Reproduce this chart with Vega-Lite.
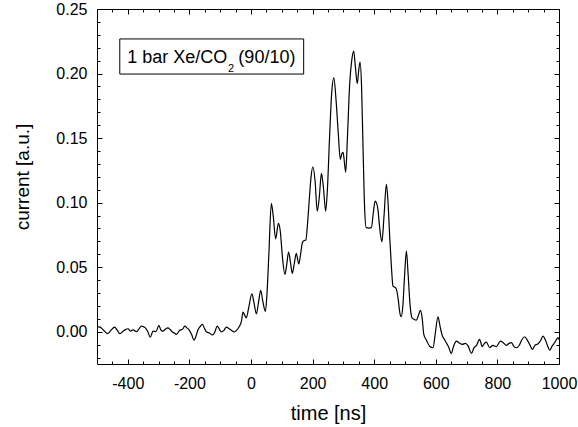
{
  "$schema": "https://vega.github.io/schema/vega-lite/v6.json",
  "autosize": {"type": "none"},
  "padding": {"left": 97, "top": 9, "right": 19, "bottom": 63},
  "width": 462,
  "height": 355,
  "background": "white",
  "config": {
    "view": {"stroke": null},
    "font": "Liberation Sans",
    "axis": {
      "grid": false,
      "domainColor": "black",
      "domainWidth": 1,
      "tickColor": "black",
      "tickWidth": 1,
      "labelColor": "black",
      "labelFont": "Liberation Sans",
      "labelFontSize": 16,
      "labelFlush": false,
      "labelOverlap": false,
      "titleColor": "black",
      "titleFont": "Liberation Sans",
      "titleFontWeight": "normal"
    }
  },
  "data": {
    "values": [
      {"t": -500, "v": 0.004}, {"t": -490, "v": 0.0036}, {"t": -478, "v": 0.001}, {"t": -466, "v": -0.0015},
      {"t": -455, "v": 0.001}, {"t": -443, "v": 0.0036}, {"t": -434, "v": 0.001}, {"t": -426, "v": -0.0015},
      {"t": -412, "v": 0.001}, {"t": -399, "v": 0.0023}, {"t": -392, "v": 0.0005}, {"t": -383, "v": 0.0015},
      {"t": -372, "v": 0.0}, {"t": -364, "v": 0.002}, {"t": -356, "v": 0.0044}, {"t": -343, "v": 0.003},
      {"t": -335, "v": 0.0}, {"t": -327, "v": -0.0042}, {"t": -318, "v": 0.0005}, {"t": -309, "v": 0.0},
      {"t": -299, "v": 0.0049}, {"t": -293, "v": 0.0015}, {"t": -286, "v": 0.0005}, {"t": -278, "v": 0.002},
      {"t": -270, "v": 0.003}, {"t": -262, "v": 0.0015}, {"t": -256, "v": 0.0}, {"t": -249, "v": -0.001},
      {"t": -242, "v": -0.002}, {"t": -232, "v": 0.001}, {"t": -222, "v": 0.002}, {"t": -215, "v": 0.0044},
      {"t": -208, "v": 0.003}, {"t": -201, "v": 0.0015}, {"t": -193, "v": -0.002}, {"t": -185, "v": -0.0065},
      {"t": -178, "v": -0.003}, {"t": -173, "v": 0.001}, {"t": -165, "v": 0.004}, {"t": -158, "v": 0.0057},
      {"t": -150, "v": 0.002}, {"t": -145, "v": 0.0}, {"t": -135, "v": -0.001}, {"t": -125, "v": -0.0025},
      {"t": -117, "v": 0.0}, {"t": -110, "v": 0.0044}, {"t": -103, "v": 0.002}, {"t": -96, "v": -0.0002},
      {"t": -88, "v": 0.001}, {"t": -80, "v": 0.0036}, {"t": -72, "v": 0.0025}, {"t": -63, "v": 0.001},
      {"t": -55, "v": -0.0002}, {"t": -47, "v": 0.001}, {"t": -39, "v": 0.0036}, {"t": -31, "v": 0.0082},
      {"t": -26, "v": 0.0152}, {"t": -20, "v": 0.0125}, {"t": -15, "v": 0.0108}, {"t": -8, "v": 0.018},
      {"t": 3, "v": 0.0294}, {"t": 10, "v": 0.022}, {"t": 17.5, "v": 0.0139}, {"t": 24, "v": 0.022},
      {"t": 31.5, "v": 0.032}, {"t": 38, "v": 0.024}, {"t": 46.7, "v": 0.0157}, {"t": 52, "v": 0.03},
      {"t": 58, "v": 0.06}, {"t": 66, "v": 0.0994}, {"t": 72, "v": 0.09}, {"t": 80, "v": 0.072},
      {"t": 89, "v": 0.0839}, {"t": 95, "v": 0.078}, {"t": 102, "v": 0.058}, {"t": 110, "v": 0.0444},
      {"t": 116, "v": 0.052}, {"t": 122, "v": 0.0617}, {"t": 128, "v": 0.054}, {"t": 134, "v": 0.0452},
      {"t": 140, "v": 0.052}, {"t": 147, "v": 0.0607}, {"t": 155, "v": 0.0525}, {"t": 161, "v": 0.06},
      {"t": 167, "v": 0.0692}, {"t": 172, "v": 0.0705}, {"t": 178, "v": 0.071}, {"t": 184, "v": 0.085},
      {"t": 190, "v": 0.105}, {"t": 195, "v": 0.12}, {"t": 201, "v": 0.1278}, {"t": 208, "v": 0.117},
      {"t": 215, "v": 0.0934}, {"t": 222, "v": 0.105}, {"t": 228.6, "v": 0.1226}, {"t": 235, "v": 0.112},
      {"t": 242.5, "v": 0.0934}, {"t": 248, "v": 0.11}, {"t": 255, "v": 0.15}, {"t": 262, "v": 0.185},
      {"t": 269, "v": 0.1967}, {"t": 276, "v": 0.18}, {"t": 283, "v": 0.155}, {"t": 290, "v": 0.1335},
      {"t": 295, "v": 0.138}, {"t": 299, "v": 0.139}, {"t": 303, "v": 0.132}, {"t": 307.5, "v": 0.1236},
      {"t": 313, "v": 0.15}, {"t": 320, "v": 0.19}, {"t": 327, "v": 0.21}, {"t": 333.5, "v": 0.2174},
      {"t": 339, "v": 0.205}, {"t": 345, "v": 0.1923}, {"t": 350, "v": 0.203}, {"t": 354, "v": 0.2088},
      {"t": 359, "v": 0.19}, {"t": 364, "v": 0.14}, {"t": 369, "v": 0.095}, {"t": 374, "v": 0.0806},
      {"t": 383, "v": 0.0803}, {"t": 391, "v": 0.0806}, {"t": 397, "v": 0.092}, {"t": 403, "v": 0.1012},
      {"t": 407, "v": 0.1}, {"t": 412, "v": 0.095}, {"t": 418, "v": 0.08}, {"t": 425, "v": 0.0697},
      {"t": 432, "v": 0.09}, {"t": 439.6, "v": 0.1141}, {"t": 445, "v": 0.1}, {"t": 450, "v": 0.075},
      {"t": 456, "v": 0.05}, {"t": 461, "v": 0.0353}, {"t": 467, "v": 0.0345}, {"t": 472, "v": 0.033},
      {"t": 478, "v": 0.025}, {"t": 483, "v": 0.015}, {"t": 488, "v": 0.0116}, {"t": 493, "v": 0.02},
      {"t": 499, "v": 0.045}, {"t": 504.5, "v": 0.0624}, {"t": 510, "v": 0.045}, {"t": 516, "v": 0.022},
      {"t": 522.7, "v": 0.0108}, {"t": 530, "v": 0.0095}, {"t": 537, "v": 0.009}, {"t": 544, "v": 0.013},
      {"t": 550, "v": 0.0165}, {"t": 556, "v": 0.01}, {"t": 561, "v": -0.002}, {"t": 569.5, "v": -0.0065},
      {"t": 580, "v": -0.0112}, {"t": 591, "v": -0.0124}, {"t": 599, "v": 0.0}, {"t": 607, "v": 0.0116},
      {"t": 614, "v": 0.004}, {"t": 621, "v": -0.003}, {"t": 628, "v": -0.006}, {"t": 634, "v": -0.0085},
      {"t": 642, "v": -0.012}, {"t": 650, "v": -0.0168}, {"t": 658, "v": -0.011}, {"t": 667, "v": -0.0073},
      {"t": 675, "v": -0.0085}, {"t": 686, "v": -0.0098}, {"t": 696, "v": -0.009}, {"t": 705, "v": -0.011},
      {"t": 715.6, "v": -0.0168}, {"t": 724, "v": -0.0125}, {"t": 732, "v": -0.0106}, {"t": 742, "v": -0.006},
      {"t": 751, "v": -0.0115}, {"t": 758, "v": -0.009}, {"t": 764, "v": -0.008}, {"t": 775, "v": -0.0124},
      {"t": 785, "v": -0.0105}, {"t": 797, "v": -0.0115}, {"t": 809.7, "v": -0.0073}, {"t": 819, "v": -0.0085},
      {"t": 829, "v": -0.0105}, {"t": 838, "v": -0.009}, {"t": 845.5, "v": -0.0085}, {"t": 854, "v": -0.0115},
      {"t": 862, "v": -0.0124}, {"t": 871, "v": -0.0105}, {"t": 880, "v": -0.006}, {"t": 888.6, "v": -0.0039},
      {"t": 897, "v": -0.0065}, {"t": 905, "v": -0.01}, {"t": 913.5, "v": -0.0137}, {"t": 922, "v": -0.0105},
      {"t": 931, "v": -0.0095}, {"t": 940, "v": -0.007}, {"t": 948, "v": -0.0034}, {"t": 956, "v": -0.0065},
      {"t": 963, "v": -0.011}, {"t": 970, "v": -0.0142}, {"t": 978, "v": -0.011}, {"t": 986, "v": -0.0085},
      {"t": 997, "v": -0.0046}, {"t": 1000, "v": -0.006}
    ]
  },
  "layer": [
    {
      "mark": {"type": "line", "color": "black", "strokeWidth": 1.2, "interpolate": "monotone"},
      "encoding": {
        "x": {"field": "t", "type": "quantitative",
          "scale": {"domain": [-500, 1000], "nice": false, "zero": false},
          "axis": {"orient": "bottom", "values": [-400, -200, 0, 200, 400, 600, 800, 1000],
            "labelExpr": "'' + datum.value",
            "ticks": false, "labelPadding": 11.5, "title": "time [ns]", "titleFontSize": 20,
            "titleY": 55, "titleBaseline": "alphabetic"}},
        "y": {"field": "v", "type": "quantitative",
          "scale": {"domain": [-0.025, 0.25], "nice": false, "zero": false},
          "axis": {"orient": "left", "values": [0, 0.05, 0.1, 0.15, 0.2, 0.25], "format": ".2f",
            "ticks": false, "labelPadding": 10, "title": "current [a.u.]", "titleFontSize": 19,
            "titleAngle": -90, "titleX": -69, "titleY": 167.5, "titleBaseline": "alphabetic", "titleAlign": "center"}}
      }
    },
    {
      "mark": {"type": "line", "strokeOpacity": 0},
      "encoding": {
        "x": {"field": "t", "type": "quantitative",
          "axis": {"orient": "top", "offset": -355, "values": [-400, -200, 0, 200, 400, 600, 800, 1000],
            "tickSize": 5, "labels": false, "domain": false, "title": null}},
        "y": {"field": "v", "type": "quantitative",
          "axis": {"orient": "right", "offset": -462, "values": [0, 0.05, 0.1, 0.15, 0.2, 0.25],
            "tickSize": 5, "labels": false, "domain": false, "title": null}}
      }
    },
    {
      "mark": {"type": "line", "strokeOpacity": 0},
      "encoding": {
        "x": {"field": "t", "type": "quantitative",
          "axis": {"orient": "top", "offset": -355, "values": [-450, -350, -300, -250, -150, -100, -50, 50, 100, 150, 250, 300, 350, 450, 500, 550, 650, 700, 750, 850, 900, 950],
            "tickSize": 3, "labels": false, "domain": false, "title": null}},
        "y": {"field": "v", "type": "quantitative",
          "axis": {"orient": "right", "offset": -462, "values": [-0.02, -0.01, 0.01, 0.02, 0.03, 0.04, 0.06, 0.07, 0.08, 0.09, 0.11, 0.12, 0.13, 0.14, 0.16, 0.17, 0.18, 0.19, 0.21, 0.22, 0.23, 0.24],
            "tickSize": 3, "labels": false, "domain": false, "title": null}}
      }
    },
    {
      "mark": {"type": "line", "strokeOpacity": 0},
      "encoding": {
        "x": {"field": "t", "type": "quantitative",
          "axis": {"orient": "bottom", "offset": -355, "values": [-400, -200, 0, 200, 400, 600, 800, 1000],
            "tickSize": 5, "labels": false, "domain": true, "title": null}},
        "y": {"field": "v", "type": "quantitative",
          "axis": {"orient": "left", "offset": -462, "values": [0, 0.05, 0.1, 0.15, 0.2, 0.25],
            "tickSize": 5, "labels": false, "domain": true, "title": null}}
      }
    },
    {
      "mark": {"type": "line", "strokeOpacity": 0},
      "encoding": {
        "x": {"field": "t", "type": "quantitative",
          "axis": {"orient": "bottom", "offset": -355, "values": [-450, -350, -300, -250, -150, -100, -50, 50, 100, 150, 250, 300, 350, 450, 500, 550, 650, 700, 750, 850, 900, 950],
            "tickSize": 3, "labels": false, "domain": false, "title": null}},
        "y": {"field": "v", "type": "quantitative",
          "axis": {"orient": "left", "offset": -462, "values": [-0.02, -0.01, 0.01, 0.02, 0.03, 0.04, 0.06, 0.07, 0.08, 0.09, 0.11, 0.12, 0.13, 0.14, 0.16, 0.17, 0.18, 0.19, 0.21, 0.22, 0.23, 0.24],
            "tickSize": 3, "labels": false, "domain": false, "title": null}}
      }
    },
    {
      "data": {"values": [{}]},
      "mark": {"type": "rect", "fill": "white", "fillOpacity": 0, "stroke": "black", "strokeWidth": 1},
      "encoding": {
        "x": {"datum": -426, "type": "quantitative", "axis": null},
        "x2": {"datum": 171},
        "y": {"datum": 0.2268, "type": "quantitative", "axis": null},
        "y2": {"datum": 0.1996}
      }
    },
    {
      "data": {"values": [{}]},
      "mark": {"type": "text", "align": "left", "baseline": "alphabetic", "fontSize": 18, "font": "Liberation Sans", "color": "black"},
      "encoding": {
        "x": {"datum": -402, "type": "quantitative", "axis": null},
        "y": {"datum": 0.2082, "type": "quantitative", "axis": null},
        "text": {"value": "1 bar Xe/CO"}
      }
    },
    {
      "data": {"values": [{}]},
      "mark": {"type": "text", "align": "left", "baseline": "alphabetic", "fontSize": 11, "font": "Liberation Sans", "color": "black"},
      "encoding": {
        "x": {"datum": -75, "type": "quantitative", "axis": null},
        "y": {"datum": 0.2012, "type": "quantitative", "axis": null},
        "text": {"value": "2"}
      }
    },
    {
      "data": {"values": [{}]},
      "mark": {"type": "text", "align": "left", "baseline": "alphabetic", "fontSize": 18, "font": "Liberation Sans", "color": "black"},
      "encoding": {
        "x": {"datum": -41, "type": "quantitative", "axis": null},
        "y": {"datum": 0.2082, "type": "quantitative", "axis": null},
        "text": {"value": "(90/10)"}
      }
    }
  ],
  "resolve": {"axis": {"x": "independent", "y": "independent"}}
}
